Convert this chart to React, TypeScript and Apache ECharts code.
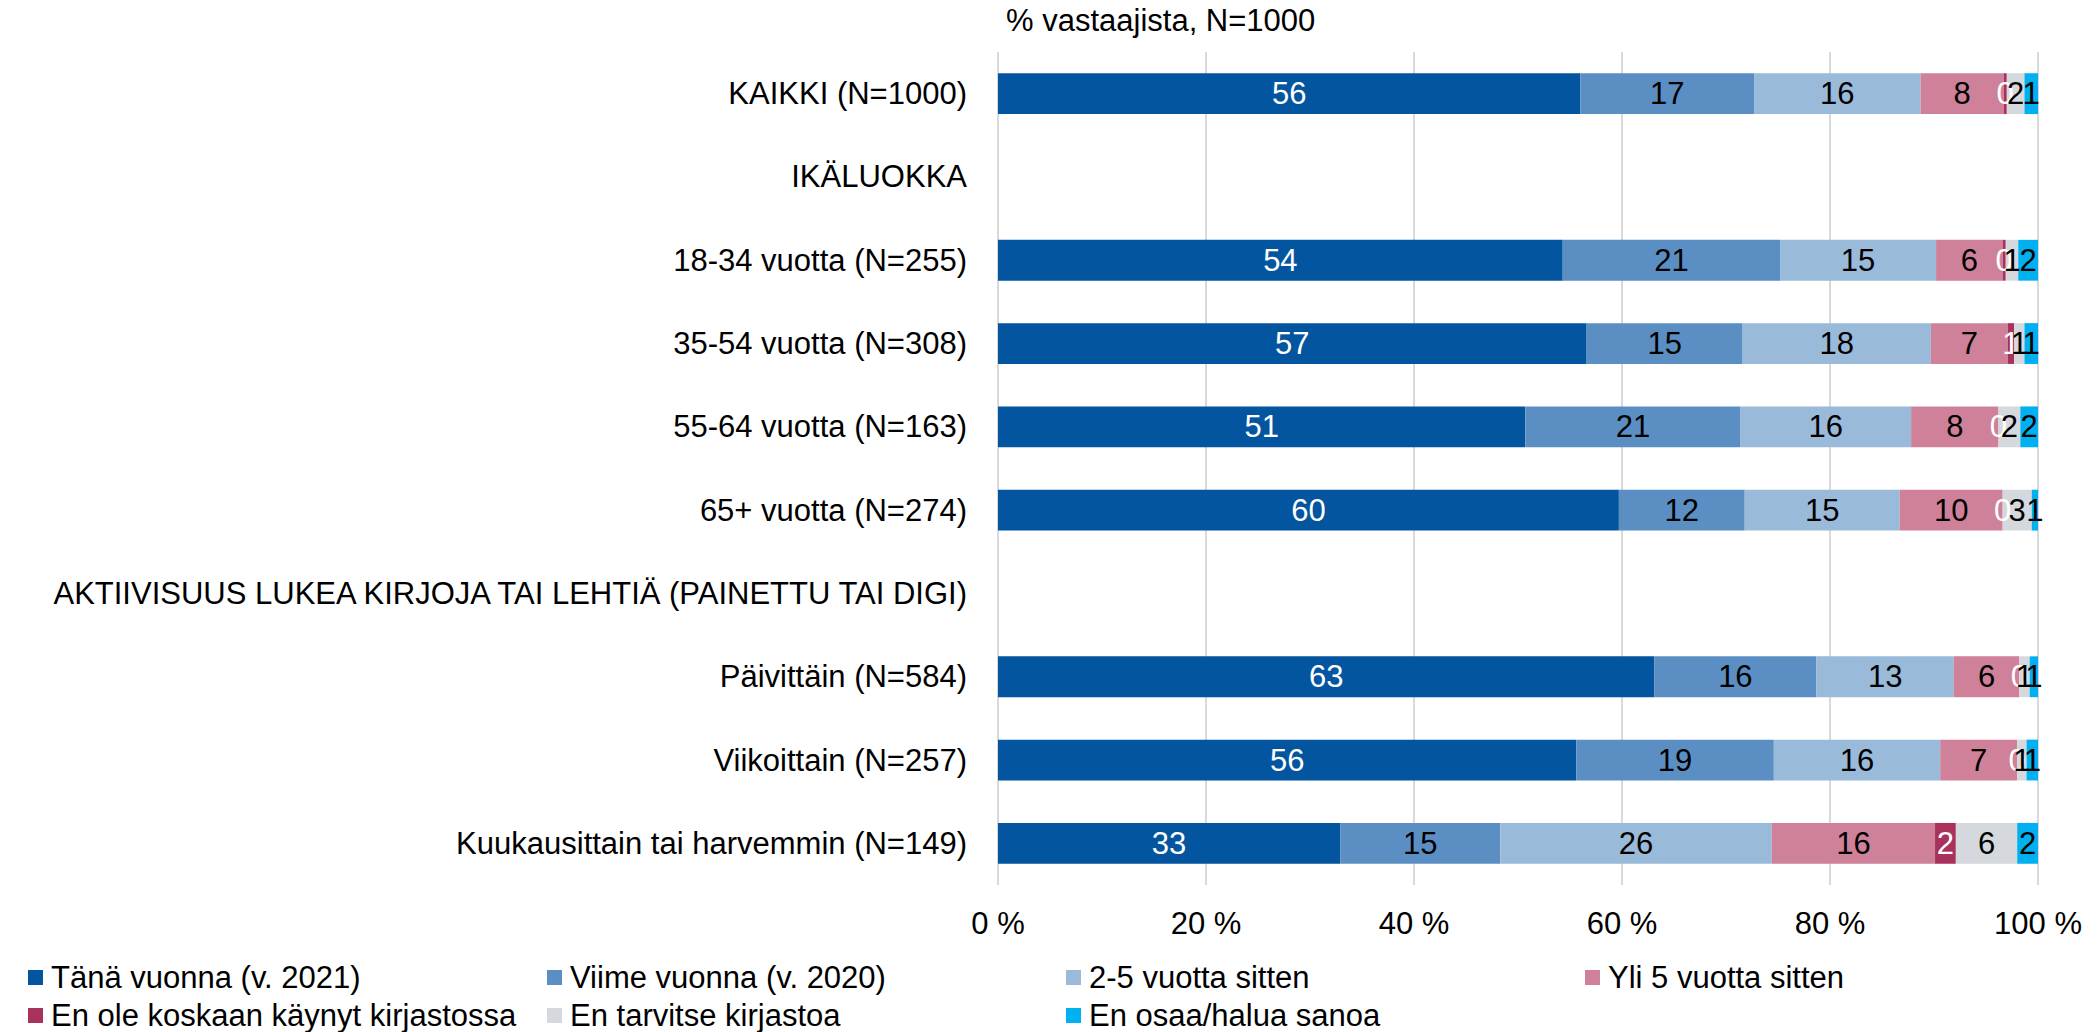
import React, { useEffect, useRef } from "react";
import * as echarts from "echarts";

const categories = [
  "KAIKKI (N=1000)",
  "IKÄLUOKKA",
  "18-34 vuotta (N=255)",
  "35-54 vuotta (N=308)",
  "55-64 vuotta (N=163)",
  "65+ vuotta (N=274)",
  "AKTIIVISUUS LUKEA KIRJOJA TAI LEHTIÄ (PAINETTU TAI DIGI)",
  "Päivittäin (N=584)",
  "Viikoittain (N=257)",
  "Kuukausittain tai harvemmin (N=149)",
];

const seriesNames = [
  "Tänä vuonna (v. 2021)",
  "Viime vuonna (v. 2020)",
  "2-5 vuotta sitten",
  "Yli 5 vuotta sitten",
  "En ole koskaan käynyt kirjastossa",
  "En tarvitse kirjastoa",
  "En osaa/halua sanoa",
];

const tanaVuonna = [56.0, "-", 54.3, 56.6, 50.7, 59.7, "-", 63.1, 55.6, 32.9];
const viimeVuonna = [16.7, "-", 20.9, 15.0, 20.7, 12.1, "-", 15.6, 19.0, 15.4];
const kaksiViisi = [16.0, "-", 15.0, 18.1, 16.4, 14.9, "-", 13.2, 16.0, 26.1];
const yliViisi = [8.0, "-", 6.4, 7.4, 8.4, 9.9, "-", 6.3, 7.4, 15.7];
const enOleKaynyt = [0.3, "-", 0.3, 0.6, 0, 0, "-", 0, 0, 2.0];
const enTarvitse = [1.7, "-", 1.2, 1.0, 2.1, 2.8, "-", 1.0, 0.9, 5.9];
const enOsaa = [1.3, "-", 1.9, 1.3, 1.7, 0.6, "-", 0.8, 1.1, 2.0];

const xTicks = [0, 20, 40, 60, 80, 100];

const seriesData = [tanaVuonna, viimeVuonna, kaksiViisi, yliViisi, enOleKaynyt, enTarvitse, enOsaa];
const colors = ["#02559E", "#5B8FC3", "#9ABAD9", "#CE8199", "#A8325B", "#D5D8DC", "#00B0F0"];
const labelColors = ["#fff", "#000", "#000", "#000", "#fff", "#000", "#000"];

const FONT = "'Liberation Sans', Arial, sans-serif";
const FS = 31;

export default function App() {
  const ref = useRef<HTMLDivElement>(null);
  useEffect(() => {
    if (!ref.current) return;
    const chart = echarts.init(ref.current, null, { renderer: "svg" });
    const legendCols = [28, 547, 1066, 1585];
    const legendRows = [962, 1000];
    const legends = seriesNames.map((name, i) => ({
      show: true,
      data: [name],
      left: legendCols[i % 4],
      top: legendRows[Math.floor(i / 4)],
      padding: 0,
      itemWidth: 15,
      itemHeight: 15,
      icon: "rect",
      selectedMode: false,
      textStyle: { fontFamily: FONT, fontSize: FS, color: "#000", padding: [0, 0, 0, 3] },
    }));
    chart.setOption({
      animation: false,
      color: colors,
      textStyle: { fontFamily: FONT },
      title: {
        text: "% vastaajista, N=1000",
        left: 1006,
        top: 5,
        padding: 0,
        textStyle: { fontFamily: FONT, fontSize: FS, fontWeight: "normal", color: "#000" },
      },
      legend: legends,
      grid: { left: 998, right: 59, top: 52, bottom: 147, containLabel: false },
      xAxis: {
        type: "value",
        min: xTicks[0],
        max: xTicks[xTicks.length - 1],
        interval: 20,
        axisLine: { show: false },
        axisTick: { show: false },
        splitLine: { show: true, lineStyle: { color: "#d9d9d9", width: 2 } },
        axisLabel: {
          formatter: "{value} %",
          fontFamily: FONT,
          fontSize: FS,
          color: "#000",
          margin: 23,
        },
      },
      yAxis: {
        type: "category",
        inverse: true,
        data: categories,
        axisLine: { show: false },
        axisTick: { show: false },
        splitLine: { show: false },
        axisLabel: { fontFamily: FONT, fontSize: FS, color: "#000", margin: 31 },
      },
      series: seriesNames.map((name, i) => ({
        name,
        type: "bar",
        stack: "total",
        barWidth: "49%",
        data: seriesData[i],
        itemStyle: { color: colors[i] },
        label: {
          show: true,
          position: "inside",
          fontFamily: FONT,
          fontSize: FS,
          color: labelColors[i],
          formatter: (p: any) => String(Math.round(Number(p.value))),
        },
      })),
    });
    return () => chart.dispose();
  }, []);
  return (
    <div
      ref={ref}
      style={{ position: "fixed", left: 0, top: 0, width: 2097, height: 1032, background: "#fff" }}
    />
  );
}
